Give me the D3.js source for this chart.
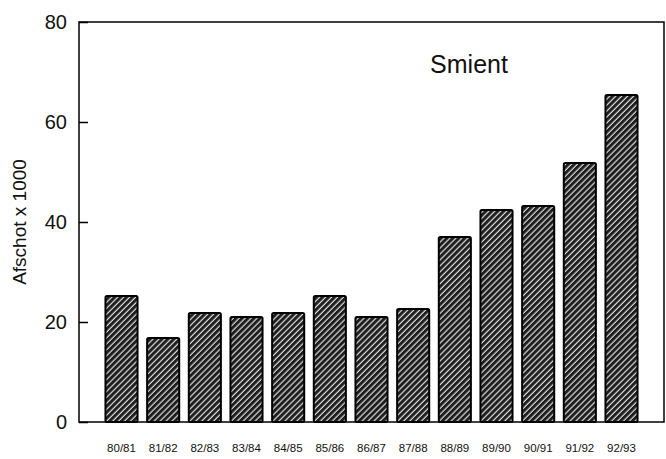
<!DOCTYPE html>
<html><head><meta charset="utf-8">
<script src="https://cdn.jsdelivr.net/npm/d3@7"></script>
<style>body{margin:0;background:#fff}svg{display:block}text{font-family:Arial,"Liberation Sans",sans-serif;fill:#111}</style>
</head><body>
<script>
const seasons = ["80/81","81/82","82/83","83/84","84/85","85/86","86/87","87/88","88/89","89/90","90/91","91/92","92/93"];
const values = [25.2,16.8,21.8,21,21.8,25.2,21,22.6,37,42.4,43.2,51.8,65.4];
const yTicks = [0,20,40,60,80];
const title = "Smient";
const yLabel = "Afschot x 1000";

const W=666,H=459, L=79, R=664, T=22, B=422;
const svg=d3.select("body").append("svg").attr("width",W).attr("height",H);
const defs=svg.append("defs");
const pat=defs.append("pattern").attr("id","hatch").attr("patternUnits","userSpaceOnUse")
  .attr("width",4.2).attr("height",4.2).attr("patternTransform","rotate(45)");
pat.append("rect").attr("width",4.2).attr("height",4.2).attr("fill","#dcdcdc");
pat.append("rect").attr("x",0).attr("width",3).attr("height",4.2).attr("fill","#1e1e1e");

const x=d3.scaleBand().domain(seasons).range([L,R]).paddingInner(0.23).paddingOuter(0.635);
const y=d3.scaleLinear().domain([0,80]).range([B,T]);

svg.append("g").selectAll("rect").data(values).join("rect")
  .attr("x",(d,i)=>x(seasons[i])).attr("y",d=>y(d))
  .attr("width",x.bandwidth()).attr("height",d=>y(0)-y(d))
  .attr("rx",1.5)
  .attr("fill","url(#hatch)").attr("stroke","#000").attr("stroke-width",2);

// frame
svg.append("rect").attr("x",L).attr("y",T).attr("width",R-L).attr("height",B-T)
  .attr("fill","none").attr("stroke","#000").attr("stroke-width",1.5);

const ya=svg.append("g").attr("transform",`translate(${L},0)`)
  .call(d3.axisRight(y).tickValues(yTicks).tickSize(9).tickFormat(""));
ya.select(".domain").remove();
ya.selectAll("line").attr("stroke","#000").attr("stroke-width",1.5);
svg.append("g").selectAll("text").data(yTicks).join("text")
  .attr("x",L-12).attr("y",d=>y(d)).attr("dy","0.36em").attr("text-anchor","end")
  .attr("font-size",20).text(d=>d);

svg.append("g").selectAll("text").data(seasons).join("text")
  .attr("x",d=>x(d)+x.bandwidth()/2).attr("y",452).attr("text-anchor","middle")
  .attr("font-size",11.5).text(d=>d);

svg.append("text").attr("transform",`translate(26,${(T+B)/2}) rotate(-90)`)
  .attr("text-anchor","middle").attr("font-size",19).text(yLabel);

svg.append("text").attr("x",469).attr("y",73).attr("text-anchor","middle")
  .attr("font-size",25).text(title);
</script>
</body></html>
